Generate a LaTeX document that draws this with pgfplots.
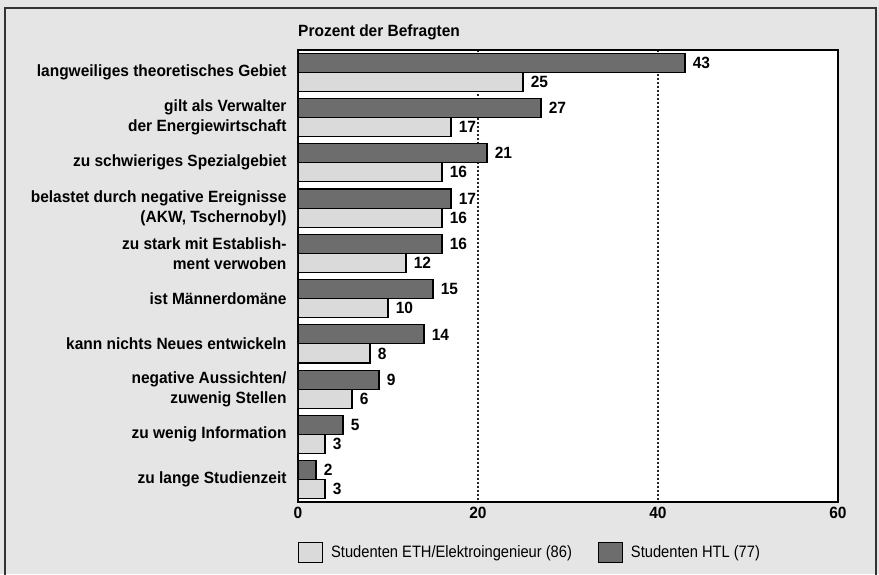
\documentclass[border=0pt]{standalone}
\usepackage{pgfplots}
\pgfplotsset{compat=1.18}
\usepackage{fontspec}
\setmainfont{Liberation Sans}
\newfontfamily\labfont[FakeStretch=0.95]{Liberation Sans}
\newfontfamily\legfont[FakeStretch=0.89]{Liberation Sans}
\definecolor{paper}{HTML}{E5E5E5}
\definecolor{darkbar}{HTML}{6D6D6D}
\definecolor{lightbar}{HTML}{DADADA}
\newcommand{\lab}{\labfont\fontsize{16.3}{20}\selectfont\bfseries}
\newcommand{\leg}{\legfont\fontsize{16.5}{18}\selectfont}
\begin{document}
\begin{tikzpicture}[x=1pt,y=1pt]
\fill[paper] (0,0) rectangle (879,574);
\draw[line width=1.2pt, black!80] (5,-2) -- (5,566) -- (876,566) -- (876,-2);
\node[anchor=base west, font=\lab, inner sep=0pt] at (298pt,537pt) {Prozent der Befragten};
\begin{axis}[
  at={(298pt,524pt)}, anchor=north west,
  scale only axis, width=540pt, height=452pt,
  xmin=0, xmax=60, ymin=-0.49, ymax=9.49, y dir=reverse,
  axis background/.style={fill=white},
  axis line style={line width=1.4pt, black},
  xtick={0,20,40,60},
  ytick={0,...,9},
  yticklabels={{langweiliges theoretisches Gebiet},
    {gilt als Verwalter\\der Energiewirtschaft},
    {zu schwieriges Spezialgebiet},
    {belastet durch negative Ereignisse\\(AKW, Tschernobyl)},
    {zu stark mit Establish-\\ment verwoben},
    {ist Männerdomäne},
    {kann nichts Neues entwickeln},
    {negative Aussichten/\\zuwenig Stellen},
    {zu wenig Information},
    {zu lange Studienzeit}},
  yticklabel style={font=\lab, align=right, xshift=-8pt},
  xticklabel style={font=\lab, yshift=-2pt},
  /pgf/number format/assume math mode=true,
  major tick length=0pt,
  xmajorgrids,
  grid style={line width=1.2pt, dash pattern=on 2pt off 2pt, black!85},
  xbar, bar width=0.42, bar shift=0,
  nodes near coords,
  point meta=x,
  nodes near coords style={font=\lab, xshift=4pt},
  legend style={at={(0,-0.1106)}, anchor=west, draw=none, fill=none,
    inner sep=0pt, font=\leg, legend columns=2,
    /tikz/every even column/.append style={column sep=24pt}},
  legend image code/.code={\draw[#1, draw=black, line width=1pt] (0pt,-10pt) rectangle (24pt,10pt);},
]
\addplot[fill=lightbar, draw=black, line width=1.1pt] coordinates {
  (25,0.21) (17,1.21) (16,2.21) (16,3.21) (12,4.21)
  (10,5.21) (8,6.21) (6,7.21) (3,8.21) (3,9.21)};
\addlegendentry{\hspace{6pt}Studenten ETH/Elektroingenieur (86)}
\addplot[fill=darkbar, draw=black, line width=1.1pt] coordinates {
  (43,-0.21) (27,0.79) (21,1.79) (17,2.79) (16,3.79)
  (15,4.79) (14,5.79) (9,6.79) (5,7.79) (2,8.79)};
\addlegendentry{\hspace{6pt}Studenten HTL (77)}
\end{axis}
\pgfresetboundingbox
\useasboundingbox (0,0) rectangle (879,574);
\end{tikzpicture}
\end{document}
